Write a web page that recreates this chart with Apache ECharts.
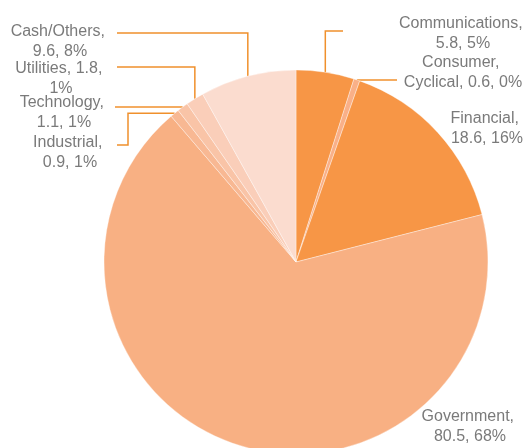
<!DOCTYPE html>
<html>
<head>
<meta charset="utf-8">
<script src="https://cdn.jsdelivr.net/npm/echarts@6/dist/echarts.min.js"></script>
<style>
  html, body { margin: 0; padding: 0; background: #ffffff; }
  #chart { width: 529px; height: 448px; }
</style>
</head>
<body>
<div id="chart"></div>
<script>
// Portfolio allocation by sector
const sectors = ['Communications', 'Consumer, Cyclical', 'Financial', 'Government',
                 'Industrial', 'Technology', 'Utilities', 'Cash/Others'];
const amounts = [5.8, 0.6, 18.6, 80.5, 0.9, 1.1, 1.8, 9.6];
const sliceColors = ['#F79646', '#F9B088', '#F79646', '#F8B083',
                     '#F8B893', '#F9C4A7', '#FACEB9', '#FBDCCF'];
const leaderColor = '#F0902C';

// Label placement: centre x / middle y of each text block, wrap width,
// and how the leader line is routed from the slice edge.
const labelPlace = [
  { x: 463, y: 34,  w: 140, route: 'up',   tx: 343, ty: 31 },
  { x: 463, y: 73,  w: 125, route: 'flat', tx: 397 },
  { x: 487, y: 129, w: 80,  route: 'none' },
  { x: 470, y: 427, w: 100, route: 'none' },
  { x: 70,  y: 153, w: 80,  route: 'down', tx: 117, kx: 128, ty: 145 },
  { x: 64,  y: 113, w: 96,  route: 'flat', tx: 115 },
  { x: 61,  y: 79,  w: 100, route: 'up',   tx: 117, ty: 67 },
  { x: 60,  y: 42,  w: 100, route: 'up',   tx: 117, ty: 33 }
];

const pieCenter = [296, 262];
const pieRadius = 192;

const chart = echarts.init(document.getElementById('chart'), null, { renderer: 'canvas' });

const total = amounts.reduce((a, b) => a + b, 0);
function edgePoint(i) {
  let before = 0;
  for (let k = 0; k < i; k++) before += amounts[k];
  const mid = (before + amounts[i] / 2) / total * Math.PI * 2;
  return [pieCenter[0] + pieRadius * Math.sin(mid), pieCenter[1] - pieRadius * Math.cos(mid)];
}

chart.setOption({
  animation: false,
  series: [{
    type: 'pie',
    center: pieCenter,
    radius: pieRadius,
    startAngle: 90,
    clockwise: true,
    percentPrecision: 0,
    avoidLabelOverlap: false,
    itemStyle: { borderColor: 'rgba(255,255,255,0.6)', borderWidth: 0.6 },
    label: {
      show: true,
      position: 'outside',
      formatter: '{b}, {c}, {d}%',
      fontFamily: 'Liberation Sans, Arial, sans-serif',
      fontSize: 16,
      lineHeight: 20,
      color: '#7A7A7A',
      align: 'center',
      overflow: 'break'
    },
    labelLine: {
      show: true,
      lineStyle: { color: leaderColor, width: 1.5 }
    },
    labelLayout: function (params) {
      const i = params.dataIndex;
      const p = labelPlace[i];
      const e = (params.labelLinePoints && params.labelLinePoints[0]) || edgePoint(i);
      let pts;
      if (p.route === 'up') pts = [e, [e[0], p.ty], [p.tx, p.ty]];
      else if (p.route === 'flat') pts = [e, [p.tx, e[1]]];
      else if (p.route === 'down') pts = [e, [p.kx, e[1]], [p.kx, p.ty], [p.tx, p.ty]];
      const out = { x: p.x, y: p.y, align: 'center', verticalAlign: 'middle', width: p.w };
      if (pts) out.labelLinePoints = pts;
      return out;
    },
    data: sectors.map((name, i) => ({
      name: name,
      value: amounts[i],
      itemStyle: { color: sliceColors[i] },
      labelLine: {
        show: labelPlace[i].route !== 'none',
        lineStyle: { color: leaderColor, width: 1.5 }
      }
    }))
  }]
});
</script>
</body>
</html>
